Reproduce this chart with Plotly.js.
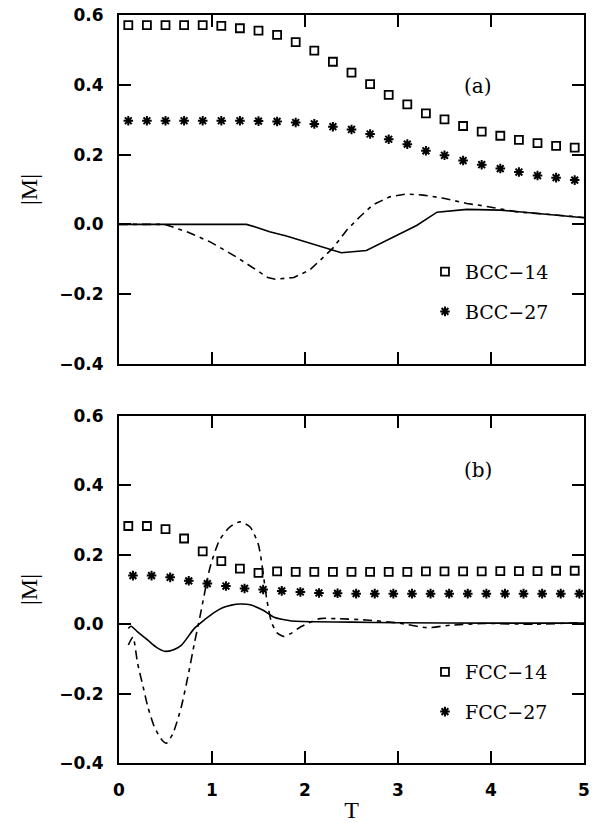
<!DOCTYPE html>
<html>
<head>
<meta charset="utf-8">
<script src="https://cdn.plot.ly/plotly-3.0.1.min.js"></script>
<style>
  html, body { margin: 0; padding: 0; background: #fff; }
  #chart { width: 599px; height: 823px; }
</style>
</head>
<body>
<div id="chart"></div>
<script>
// Temperature grid for the sampled magnetisation points
const tSquares = [0.1,0.3,0.5,0.7,0.9,1.1,1.3,1.5,1.7,1.9,2.1,2.3,2.5,2.7,2.9,3.1,3.3,3.5,3.7,3.9,4.1,4.3,4.5,4.7,4.9];
const tStarsBcc = [0.1,0.3,0.5,0.7,0.9,1.1,1.3,1.5,1.7,1.9,2.1,2.3,2.5,2.7,2.9,3.1,3.3,3.5,3.7,3.9,4.1,4.3,4.5,4.7,4.9];
const tStarsFcc = [0.15,0.35,0.55,0.75,0.95,1.15,1.35,1.55,1.75,1.95,2.15,2.35,2.55,2.75,2.95,3.15,3.35,3.55,3.75,3.95,4.15,4.35,4.55,4.75,4.95];

// Panel (a): BCC lattices
const bcc14 = [0.571,0.571,0.571,0.571,0.571,0.569,0.562,0.555,0.543,0.522,0.498,0.466,0.435,0.402,0.371,0.344,0.318,0.301,0.282,0.266,0.254,0.242,0.233,0.225,0.220];
const bcc27 = [0.297,0.297,0.297,0.297,0.297,0.297,0.297,0.296,0.295,0.292,0.288,0.280,0.272,0.259,0.244,0.230,0.211,0.198,0.183,0.171,0.160,0.150,0.140,0.134,0.127];
const bccSolidT = [0,1.0,1.37,1.5,1.62,1.8,1.95,2.1,2.25,2.39,2.66,2.9,3.2,3.42,3.74,4.1,4.5,5.0];
const bccSolidM = [0,0,0,-0.01,-0.021,-0.033,-0.045,-0.057,-0.069,-0.081,-0.075,-0.043,-0.003,0.035,0.043,0.041,0.032,0.019];
const bccDashT = [0,0.3,0.49,0.73,0.98,1.26,1.48,1.60,1.68,1.88,2.05,2.16,2.30,2.45,2.59,2.73,2.91,3.09,3.27,3.49,3.74,3.92,4.28,4.6,5.0];
const bccDashM = [0,0,0,-0.021,-0.05,-0.093,-0.131,-0.152,-0.157,-0.152,-0.131,-0.102,-0.068,-0.016,0.022,0.056,0.079,0.087,0.084,0.075,0.060,0.053,0.036,0.029,0.02];

// Panel (b): FCC lattices
const fcc14 = [0.283,0.283,0.274,0.247,0.210,0.182,0.160,0.148,0.152,0.151,0.151,0.151,0.151,0.151,0.151,0.151,0.152,0.152,0.152,0.152,0.153,0.153,0.153,0.154,0.154];
const fcc27 = [0.140,0.140,0.135,0.125,0.117,0.110,0.103,0.100,0.096,0.093,0.090,0.089,0.088,0.088,0.088,0.088,0.088,0.088,0.088,0.088,0.088,0.088,0.088,0.088,0.088];
const fccSolidT = [0.1,0.13,0.2,0.31,0.4,0.49,0.58,0.67,0.81,0.92,1.03,1.12,1.21,1.3,1.41,1.55,1.66,1.75,1.84,2.12,2.5,3.0,4.0,5.0];
const fccSolidM = [-0.012,-0.006,-0.022,-0.046,-0.066,-0.078,-0.074,-0.061,-0.012,0.013,0.035,0.048,0.055,0.058,0.056,0.040,0.021,0.014,0.010,0.007,0.006,0.004,0.003,0.003];
const fccDashT = [0.10,0.15,0.20,0.26,0.31,0.38,0.46,0.51,0.58,0.67,0.74,0.81,0.87,0.98,1.08,1.19,1.30,1.41,1.50,1.59,1.64,1.70,1.77,1.86,1.95,2.16,2.34,2.66,2.99,3.31,3.56,3.92,4.46,4.93];
const fccDashM = [-0.06,-0.037,-0.113,-0.181,-0.238,-0.296,-0.333,-0.343,-0.315,-0.238,-0.152,-0.056,0.021,0.165,0.242,0.28,0.295,0.28,0.228,0.07,0.005,-0.025,-0.035,-0.025,-0.008,0.016,0.016,0.012,0.004,-0.01,-0.003,0.002,0.0,0.004];

const xTicks = [0,1,2,3,4,5];
const yTicks = [-0.4,-0.2,0.0,0.2,0.4,0.6];
const xTickText = xTicks.map(String);
const yTickText = yTicks.map(v => v.toFixed(1).replace('-', '\u2212'));

const black = '#000000';
const clear = 'rgba(0,0,0,0)';
const dashPattern = '9px,5px,4px,5px';
const squareMarker = {symbol: 'square-open', size: 8, color: black, line: {color: black, width: 1.8}};
const starMarker = {symbol: 'asterisk-open', size: 8, color: black, line: {color: black, width: 2}};

// Solid lines and squares sit on the framed axes; dashed lines and stars on the
// labelled overlay axes, which share the same ranges and domains.
const traces = [
  {x: bccSolidT, y: bccSolidM, xaxis: 'x', yaxis: 'y', mode: 'lines', line: {color: black, width: 1.6}, showlegend: false},
  {x: bccDashT, y: bccDashM, xaxis: 'x', yaxis: 'y3', mode: 'lines', line: {color: black, width: 1.6, dash: dashPattern}, showlegend: false},
  {x: tSquares, y: bcc14, xaxis: 'x', yaxis: 'y', mode: 'markers', marker: squareMarker, name: 'BCC\u221214', legend: 'legend', legendgroup: 'a1'},
  {x: tStarsBcc, y: bcc27, xaxis: 'x', yaxis: 'y3', mode: 'markers', marker: starMarker, name: 'BCC\u221227', legend: 'legend', legendgroup: 'a2'},

  {x: fccSolidT, y: fccSolidM, xaxis: 'x2', yaxis: 'y2', mode: 'lines', line: {color: black, width: 1.6, shape: 'spline', smoothing: 0.6}, showlegend: false},
  {x: fccDashT, y: fccDashM, xaxis: 'x3', yaxis: 'y4', mode: 'lines', line: {color: black, width: 1.6, dash: dashPattern, shape: 'spline', smoothing: 0.6}, showlegend: false},
  {x: tSquares, y: fcc14, xaxis: 'x2', yaxis: 'y2', mode: 'markers', marker: squareMarker, name: 'FCC\u221214', legend: 'legend2', legendgroup: 'b1'},
  {x: tStarsFcc, y: fcc27, xaxis: 'x3', yaxis: 'y4', mode: 'markers', marker: starMarker, name: 'FCC\u221227', legend: 'legend2', legendgroup: 'b2'}
];

const tickFont = {family: 'DejaVu Sans', size: 17, color: black, weight: 'bold'};
const titleFont = {family: 'Liberation Serif', size: 24, color: black};

// Frame axes: box lines with inward ticks on all four sides
function frameX(anchor) {
  return {
    anchor: anchor, domain: [0, 1], range: [0, 5],
    tickmode: 'array', tickvals: xTicks, showticklabels: false,
    ticks: 'inside', ticklen: 12, tickwidth: 1.6, tickcolor: black,
    showline: true, linewidth: 2, linecolor: black, mirror: 'ticks',
    showgrid: false, zeroline: false
  };
}
function frameY(anchor, domain) {
  return {
    anchor: anchor, domain: domain, range: [-0.4, 0.6],
    tickmode: 'array', tickvals: yTicks, showticklabels: false,
    ticks: 'inside', ticklen: 12, tickwidth: 1.6, tickcolor: black,
    showline: true, linewidth: 2, linecolor: black, mirror: 'ticks',
    showgrid: false, zeroline: false
  };
}
// Label axes: carry the tick labels and titles, spaced off the frame
function labelY(over, anchor) {
  return {
    overlaying: over, anchor: anchor, side: 'left', range: [-0.4, 0.6],
    tickmode: 'array', tickvals: yTicks, ticktext: yTickText, tickfont: tickFont,
    ticks: 'outside', ticklen: 11, tickcolor: clear,
    showline: false, showgrid: false, zeroline: false,
    title: {text: '|M|', font: titleFont, standoff: 14}
  };
}

const legendFont = {family: 'DejaVu Serif', size: 19, color: black};
const layout = {
  width: 599, height: 823,
  margin: {l: 119, r: 15, t: 15, b: 60},
  paper_bgcolor: '#ffffff', plot_bgcolor: '#ffffff',
  xaxis: frameX('y'),
  yaxis: frameY('x', [0.5334, 1]),
  xaxis2: frameX('y2'),
  yaxis2: frameY('x2', [0, 0.4639]),
  xaxis3: {
    overlaying: 'x2', anchor: 'y2', side: 'bottom', range: [0, 5],
    tickmode: 'array', tickvals: xTicks, ticktext: xTickText, tickfont: tickFont,
    ticks: 'outside', ticklen: 12, tickcolor: clear,
    showline: false, showgrid: false, zeroline: false,
    title: {text: 'T', font: titleFont, standoff: 1}
  },
  yaxis3: labelY('y', 'x'),
  yaxis4: labelY('y2', 'x2'),
  legend: {x: 0.658, y: 0.682, xanchor: 'left', yanchor: 'top', font: legendFont,
           bgcolor: clear, tracegroupgap: 12, itemwidth: 30},
  legend2: {x: 0.658, y: 0.147, xanchor: 'left', yanchor: 'top', font: legendFont,
            bgcolor: clear, tracegroupgap: 12, itemwidth: 30},
  annotations: [
    {text: '(a)', xref: 'paper', yref: 'paper', x: 0.807, y: 0.924, showarrow: false,
     font: {family: 'DejaVu Serif', size: 20, color: black}},
    {text: '(b)', xref: 'paper', yref: 'paper', x: 0.807, y: 0.392, showarrow: false,
     font: {family: 'DejaVu Serif', size: 20, color: black}}
  ]
};

Plotly.newPlot('chart', traces, layout, {displayModeBar: false});
</script>
</body>
</html>
